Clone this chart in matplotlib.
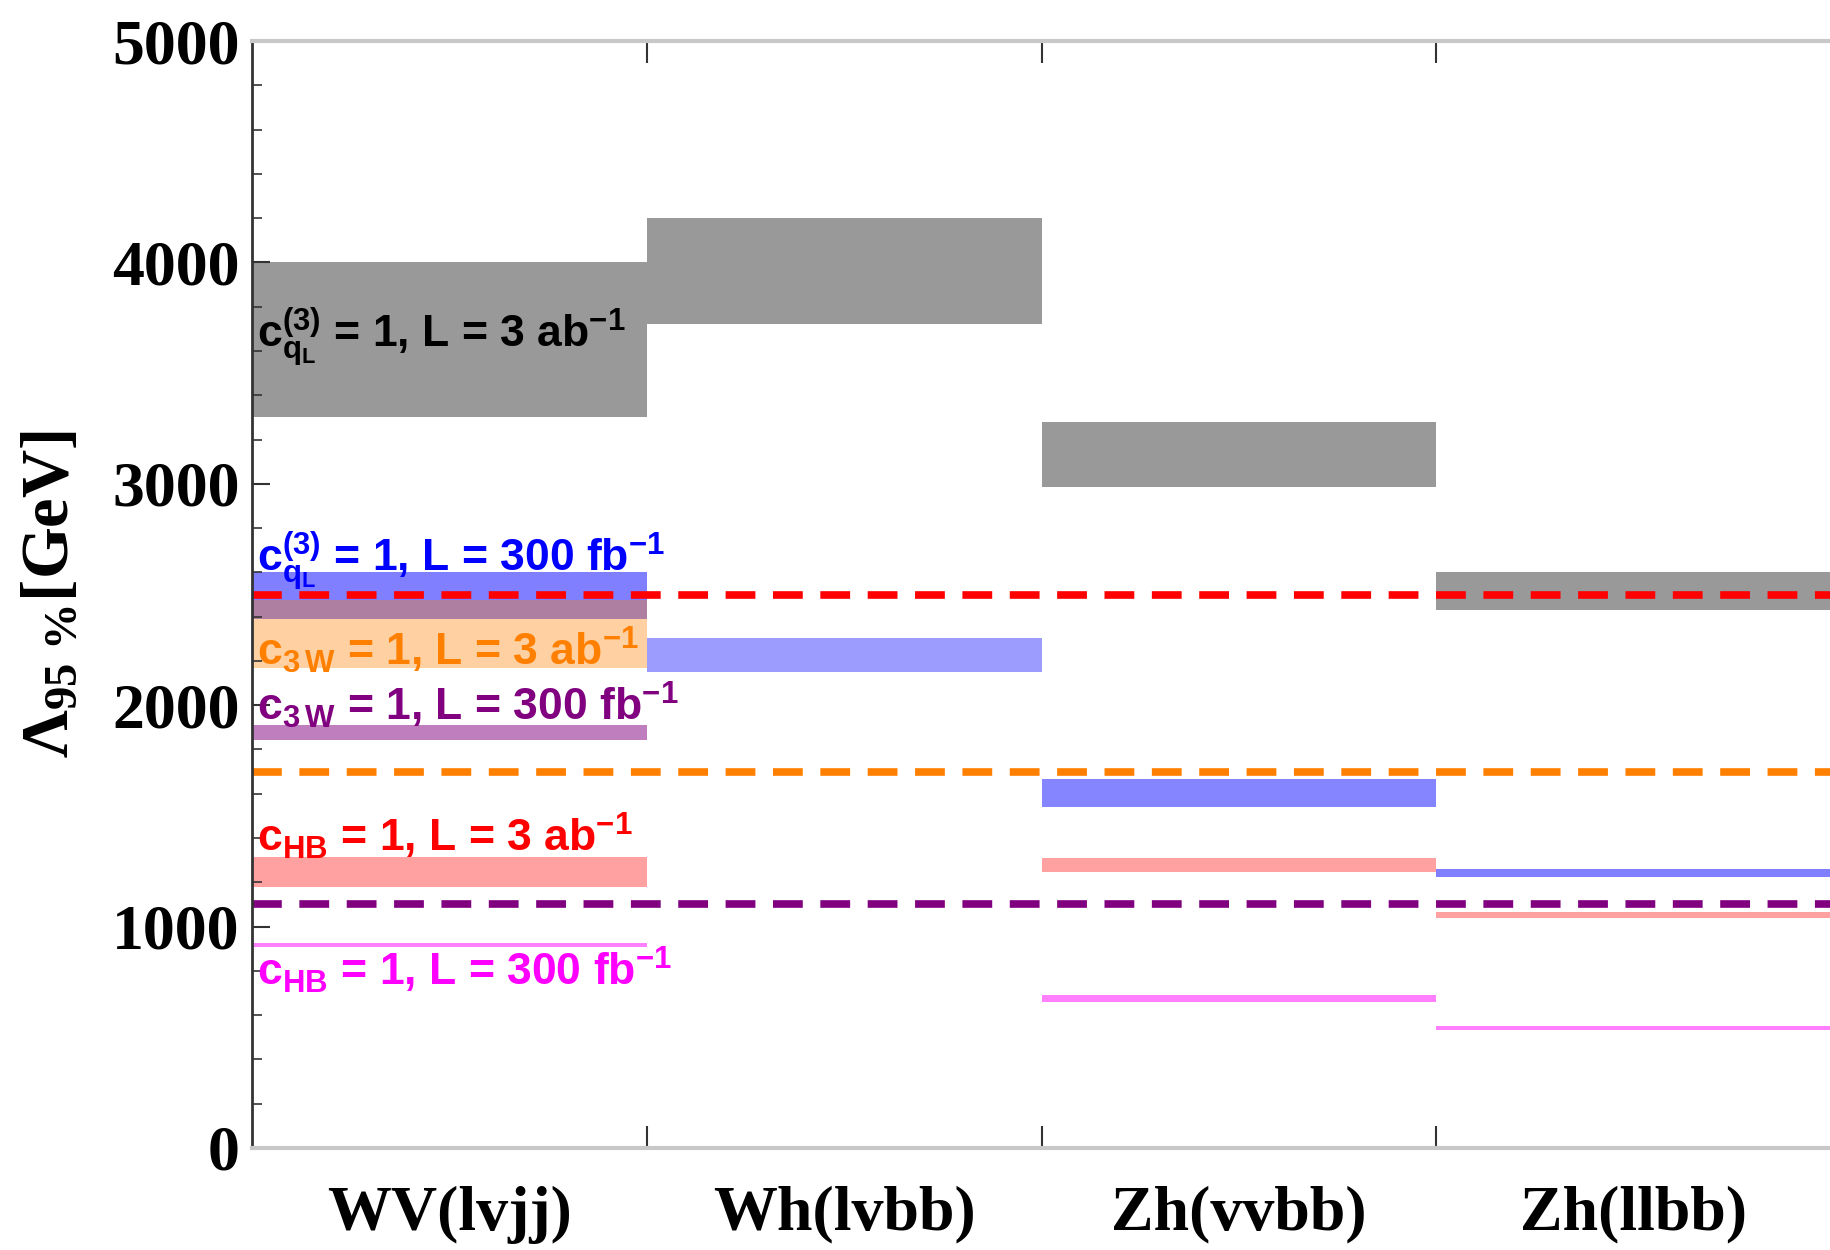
import numpy as np
import matplotlib.pyplot as plt

plt.rcParams['mathtext.fontset'] = 'custom'
plt.rcParams['mathtext.rm'] = 'Liberation Sans:bold'
plt.rcParams['mathtext.it'] = 'Liberation Sans:bold'
plt.rcParams['mathtext.bf'] = 'Liberation Sans:bold'
plt.rcParams['mathtext.sf'] = 'Liberation Serif:bold'

channels = ["WV(lvjj)", "Wh(lvbb)", "Zh(vvbb)", "Zh(llbb)"]

# 95% CL reach on the scale Lambda [GeV], band = (low, high) per channel
cq_3ab_lo = [3300, 3720, 2985, 2430]
cq_3ab_hi = [4000, 4200, 3280, 2600]
cq_300fb_lo = [2390, 2150, 1540, 1222]
cq_300fb_hi = [2600, 2305, 1665, 1258]
c3w_3ab_lo = [2170, np.nan, np.nan, np.nan]
c3w_3ab_hi = [2475, np.nan, np.nan, np.nan]
c3w_300fb_lo = [1845, np.nan, np.nan, np.nan]
c3w_300fb_hi = [1910, np.nan, np.nan, np.nan]
chb_3ab_lo = [1177, np.nan, 1247, 1040]
chb_3ab_hi = [1315, np.nan, 1308, 1067]
chb_300fb_lo = [909, np.nan, 660, 535]
chb_300fb_hi = [928, np.nan, 690, 550]

# current bounds (dashed)
bound_cq = 2500
bound_c3w = 1700
bound_chb = 1100

label_cq_3ab = r"c$_{q_L}^{(3)}$ = 1, L = 3 ab$^{-1}$"
label_cq_300fb = r"c$_{q_L}^{(3)}$ = 1, L = 300 fb$^{-1}$"
label_c3w_3ab = r"c$_{3\,W}$ = 1, L = 3 ab$^{-1}$"
label_c3w_300fb = r"c$_{3\,W}$ = 1, L = 300 fb$^{-1}$"
label_chb_3ab = r"c$_{HB}$ = 1, L = 3 ab$^{-1}$"
label_chb_300fb = r"c$_{HB}$ = 1, L = 300 fb$^{-1}$"


def draw_bands(ax, lo, hi, color, alpha):
    lo = np.asarray(lo, dtype=float)
    hi = np.asarray(hi, dtype=float)
    x = np.arange(len(lo))
    ok = ~np.isnan(lo)
    alpha = np.broadcast_to(np.asarray(alpha, dtype=float), lo.shape)
    for xi, l, h, a in zip(x[ok], lo[ok], hi[ok], alpha[ok]):
        ax.bar(xi, h - l, bottom=l, width=1.0, align='edge',
               color=color, alpha=a, linewidth=0)


fig = plt.figure(figsize=(18.31, 12.5), dpi=100)
ax = fig.add_axes([0.1377, 0.0816, 0.8623, 0.8856])

draw_bands(ax, cq_3ab_lo, cq_3ab_hi, 'black', 0.4)
draw_bands(ax, cq_300fb_lo, cq_300fb_hi, 'blue', [0.5, 0.39, 0.48, 0.5])
draw_bands(ax, c3w_3ab_lo, c3w_3ab_hi, '#ff8000', 0.37)
draw_bands(ax, c3w_300fb_lo, c3w_300fb_hi, 'purple', 0.5)
draw_bands(ax, chb_3ab_lo, chb_3ab_hi, 'red', 0.37)
draw_bands(ax, chb_300fb_lo, chb_300fb_hi, 'magenta', 0.5)

dash = (3.9, 2.3)
for yb, col in [(bound_cq, '#ff0000'), (bound_c3w, '#ff8000'), (bound_chb, '#800080')]:
    ax.axhline(yb, color=col, lw=5.5, dashes=dash, dash_capstyle='butt')

tx = 0.013
txt = dict(fontsize=32, fontweight='bold', family='Liberation Sans', va='baseline', ha='left')
ax.text(tx, 3611, label_cq_3ab, color='black', **txt)
ax.text(tx, 2600, label_cq_300fb, color='blue', **txt)
ax.text(tx, 2181, label_c3w_3ab, color='#ff8000', **txt)
ax.text(tx, 1932, label_c3w_300fb, color='purple', **txt)
ax.text(tx, 1338, label_chb_3ab, color='red', **txt)
ax.text(tx, 736, label_chb_300fb, color='magenta', **txt)

ax.set_xlim(0, 4)
ax.set_ylim(0, 5000)

ax.set_xticks(np.arange(len(channels)) + 0.5)
ax.set_xticklabels(channels, fontsize=46, fontweight='bold', family='Liberation Serif')
ax.set_xticks([1, 2, 3], minor=True)
ax.tick_params(axis='x', which='major', length=0, pad=27)
ax.tick_params(axis='x', which='minor', direction='in', length=16, width=1.5,
               color='#333333', top=True, bottom=True)

ax.set_yticks(np.arange(0, 5001, 1000))
ax.set_yticks(np.arange(0, 5001, 200), minor=True)
ax.set_yticklabels([f"{v:d}" for v in range(0, 5001, 1000)], fontsize=46,
                   fontweight='bold', family='Liberation Serif')
ax.tick_params(axis='y', which='major', direction='in', length=13, width=1.5,
               color='#333333', pad=9)
ax.tick_params(axis='y', which='minor', direction='in', length=7, width=1.2,
               color='#333333')

ax.set_ylabel(r"$\mathsf{\Lambda_{95\ \%}[GeV]}$", fontsize=48, labelpad=22)

ax.spines['left'].set_color('#333333')
ax.spines['left'].set_linewidth(2)
for side in ('top', 'bottom'):
    ax.spines[side].set_color('#c8c8c8')
    ax.spines[side].set_linewidth(3)
ax.spines['right'].set_visible(False)

fig.savefig("out.png", dpi=100)
